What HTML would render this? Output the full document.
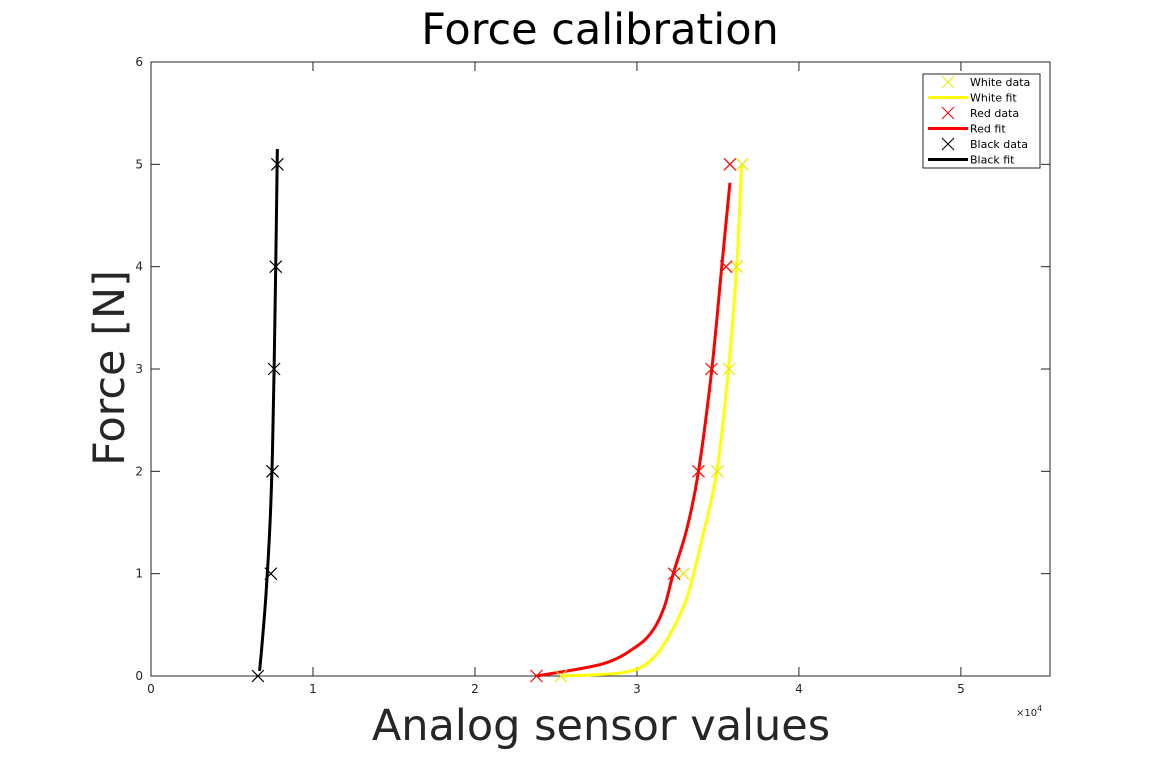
<!DOCTYPE html>
<html><head><meta charset="utf-8"><style>
body{margin:0;background:#fff;}
svg{display:block;font-family:"DejaVu Sans","Liberation Sans",sans-serif;}
</style></head><body>
<svg id="chart" width="1161" height="759"></svg>
<script>
const xTicks=[0,1,2,3,4,5];
const yTicks=[0,1,2,3,4,5,6];
const forceLevels=[0,1,2,3,4,5];
const whiteData=[25.3,32.86,34.97,35.69,36.15,36.5];
const redData=[23.8,32.3,33.8,34.6,35.5,35.74];
const blackData=[6.6,7.4,7.5,7.6,7.7,7.8];
const whiteFitX=[25.31,28.95,30.6,31.83,33.07,34.0,34.92,35.64,36.15,36.46];
const whiteFitY=[0,0.03,0.12,0.35,0.76,1.33,1.99,2.98,3.99,4.99];
const redFitX=[23.81,27.92,29.98,31.0,31.7,32.24,33.07,33.79,34.61,35.23,35.74];
const redFitY=[0,0.12,0.29,0.45,0.68,1.0,1.43,1.99,2.98,3.99,4.82];
const blackFitX=[6.7,6.85,7.1,7.35,7.5,7.6,7.7,7.8];
const blackFitY=[0.05,0.3,0.8,1.5,2.2,3.0,4.0,5.15];

const NS="http://www.w3.org/2000/svg";
const svg=document.getElementById('chart');
const L=151,R=1050,T=62,B=676,XMAX=55.5,YMAX=6;
const sx=v=>L+v/XMAX*(R-L);
const sy=v=>B-v/YMAX*(B-T);
function el(tag,attrs,parent){const e=document.createElementNS(NS,tag);for(const k in attrs)e.setAttribute(k,attrs[k]);(parent||svg).appendChild(e);return e;}

let box=el('rect',{x:L,y:T,width:R-L,height:B-T,fill:'none',stroke:'#262626','stroke-width':1});



xTicks.forEach(t=>{
  const x=sx(t*10);
  el('line',{x1:x,y1:B,x2:x,y2:B-9,stroke:'#262626'});
  el('line',{x1:x,y1:T,x2:x,y2:T+9,stroke:'#262626'});
  const tx=el('text',{x:x,y:B+17,'font-size':12,'text-anchor':'middle',fill:'#262626'});
  tx.textContent=t;
  
  
});
yTicks.forEach(t=>{
  const y=sy(t);
  el('line',{x1:L,y1:y,x2:L+9,y2:y,stroke:'#262626'});
  el('line',{x1:R,y1:y,x2:R-9,y2:y,stroke:'#262626'});
  const tx=el('text',{x:L-8,y:y+4,'font-size':12,'text-anchor':'end',fill:'#262626'});
  tx.textContent=t;
  
  
});

function smoothPath(pts){
  let d='M'+pts[0][0]+','+pts[0][1];
  for(let i=0;i<pts.length-1;i++){
    const p0=pts[Math.max(i-1,0)],p1=pts[i],p2=pts[i+1],p3=pts[Math.min(i+2,pts.length-1)];
    const c1=[p1[0]+(p2[0]-p0[0])/6,p1[1]+(p2[1]-p0[1])/6];
    const c2=[p2[0]-(p3[0]-p1[0])/6,p2[1]-(p3[1]-p1[1])/6];
    d+=`C${c1[0]},${c1[1]} ${c2[0]},${c2[1]} ${p2[0]},${p2[1]}`;
  }
  return d;
}
function fitLine(xs,ys,color,name){
  const pts=xs.map((x,i)=>[sx(x),sy(ys[i])]);
  const p=el('path',{d:smoothPath(pts),fill:'none',stroke:color,'stroke-width':3,'stroke-linejoin':'round'});
  
  
}
function marks(xs,color,name){
  xs.forEach((x,i)=>{
    const cx=sx(x),cy=sy(forceLevels[i]),s=6;
    const g=el('path',{d:`M${cx-s},${cy-s}L${cx+s},${cy+s}M${cx-s},${cy+s}L${cx+s},${cy-s}`,stroke:color,'stroke-width':1.2,fill:'none'});
    
    
  });
}
fitLine(whiteFitX,whiteFitY,'#ffff00','white-fit-line');
fitLine(redFitX,redFitY,'#ff0000','red-fit-line');
fitLine(blackFitX,blackFitY,'#000000','black-fit-line');
marks(whiteData,'#e8e800','white-data-marker');
marks(redData,'#ff0000','red-data-marker');
marks(blackData,'#000000','black-data-marker');

const lg=el('g',{});


el('rect',{x:923,y:74,width:117,height:94,fill:'#fff',stroke:'#262626','stroke-width':1},lg);
const entries=[['White data','#e8e800','m'],['White fit','#ffff00','l'],['Red data','#ff0000','m'],['Red fit','#ff0000','l'],['Black data','#000','m'],['Black fit','#000','l']];
entries.forEach((e,i)=>{
  const y=82+i*15.5;
  if(e[2]==='m'){el('path',{d:`M942,${y-6}L954,${y+6}M942,${y+6}L954,${y-6}`,stroke:e[1],'stroke-width':1},lg);}
  else{el('line',{x1:928,y1:y,x2:968,y2:y,stroke:e[1],'stroke-width':3},lg);}
  const t=el('text',{x:970,y:y+4,'font-size':11,fill:'#000'},lg);
  t.textContent=e[0];
  
  
});

const title=el('text',{x:600,y:44,'font-size':43,'text-anchor':'middle',fill:'#000'});
title.textContent='Force calibration';


const xl=el('text',{x:601,y:740,'font-size':43,'text-anchor':'middle',fill:'#262626'});
xl.textContent='Analog sensor values';


const yl=el('text',{x:0,y:0,'font-size':43,'text-anchor':'middle',fill:'#262626',transform:'translate(124,368) rotate(-90)'});
yl.textContent='Force [N]';


const ex=el('text',{x:1016,y:716,'font-size':10,fill:'#262626'});
ex.innerHTML='×10<tspan dy="-5" font-size="8">4</tspan>';


</script>
</body></html>
